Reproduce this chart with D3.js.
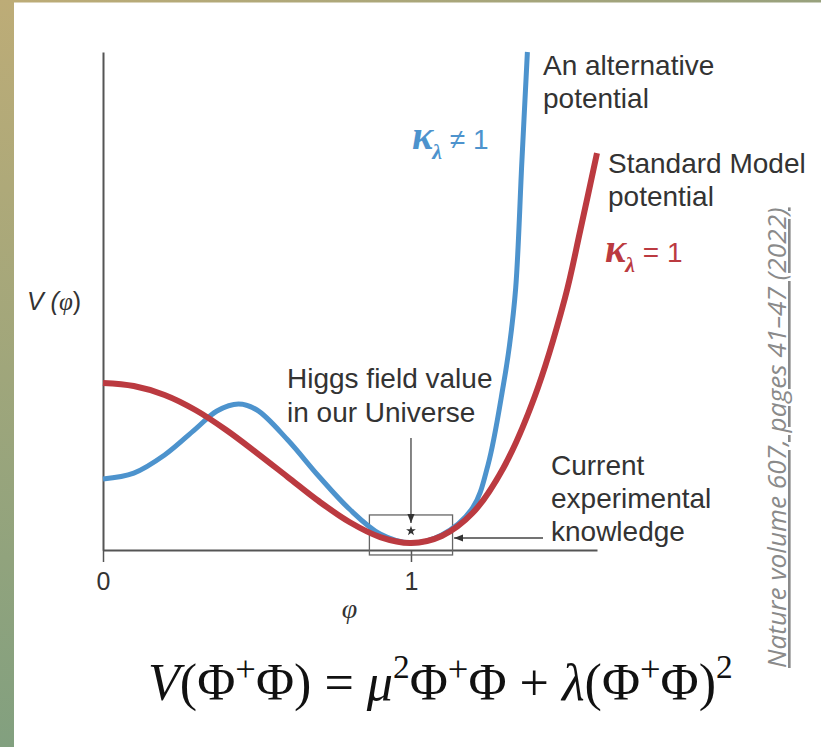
<!DOCTYPE html>
<html><head><meta charset="utf-8">
<script src="https://cdn.jsdelivr.net/npm/d3@7/dist/d3.min.js"></script>
<style>html,body{margin:0;padding:0;background:#fff;overflow:hidden} svg{display:block}</style>
</head><body>
<script>
// Higgs field value φ (in units of its vacuum value) and potential V(φ)
const phiTicks = [0, 1];
const smPhi = [0, 0.1, 0.2, 0.3, 0.4, 0.5, 0.6, 0.7, 0.8, 0.9, 1.0, 1.1, 1.2, 1.3, 1.4, 1.5, 1.55, 1.604];
const smV   = [1.044, 1.025, 0.969, 0.875, 0.75, 0.606, 0.456, 0.306, 0.175, 0.081, 0.044, 0.088, 0.231, 0.513, 0.95, 1.575, 2.0, 2.481];
const altPhi = [0, 0.1, 0.2, 0.3, 0.37, 0.44, 0.5, 0.6, 0.7, 0.8, 0.9, 1.0, 1.1, 1.2, 1.25, 1.3, 1.32, 1.34, 1.36, 1.378];
const altV   = [0.444, 0.481, 0.594, 0.756, 0.869, 0.9125, 0.875, 0.6875, 0.4625, 0.256, 0.1, 0.044, 0.094, 0.2625, 0.531, 1.031, 1.281, 1.6375, 2.425, 3.1125];

const W = 821, H = 747;
const RED = "#bb3a40", BLUE = "#4d93cd", INK = "#333", AXIS = "#555";
const SANS = "'Liberation Sans', Arial, Helvetica, sans-serif";
const SERIF = "'Liberation Serif', 'Times New Roman', serif";

const svg = d3.select("body").append("svg").attr("width", W).attr("height", H);
const defs = svg.append("defs");

// frame strips
const gl = defs.append("linearGradient").attr("id", "gLeft").attr("x1", 0).attr("y1", 0).attr("x2", 0).attr("y2", 1);
gl.append("stop").attr("offset", 0).attr("stop-color", "#bdac77");
gl.append("stop").attr("offset", 1).attr("stop-color", "#82a07f");
const gt = defs.append("linearGradient").attr("id", "gTop").attr("x1", 0).attr("y1", 0).attr("x2", 1).attr("y2", 0);
gt.append("stop").attr("offset", 0).attr("stop-color", "#bdac77");
gt.append("stop").attr("offset", 1).attr("stop-color", "#98a17d");
svg.append("rect").attr("x", 0).attr("y", 0).attr("width", W).attr("height", 2.5).attr("fill", "url(#gTop)");
svg.append("rect").attr("x", 0).attr("y", 0).attr("width", 14).attr("height", H).attr("fill", "url(#gLeft)");

// arrowhead
defs.append("marker").attr("id", "arr").attr("viewBox", "0 0 10 10")
  .attr("refX", 10).attr("refY", 5).attr("markerWidth", 9).attr("markerHeight", 9)
  .attr("markerUnits", "userSpaceOnUse").attr("orient", "auto")
  .append("path").attr("d", "M0,1L10,5L0,9Z").attr("fill", "#333");

const x = d3.scaleLinear().domain([0, 1.604]).range([103, 597]);
const y = d3.scaleLinear().domain([0, 3.1125]).range([550, 52]);

// axes
const gx = svg.append("g").attr("transform", `translate(0,${y(0)})`)
  .call(d3.axisBottom(x).tickValues(phiTicks).tickSize(12).tickSizeOuter(0).tickPadding(10).tickFormat(d3.format("d")));
const gy = svg.append("g").attr("transform", `translate(${x(0)},0)`)
  .call(d3.axisLeft(y).tickValues([]).tickSizeOuter(0));
[gx, gy].forEach(g => {
  g.select(".domain").attr("stroke", AXIS).attr("stroke-width", 2);
  g.selectAll(".tick line").attr("stroke", AXIS).attr("stroke-width", 1.5);
  g.selectAll(".tick text").attr("fill", INK).style("font-family", SANS).style("font-size", "25px");
});

// experimental-knowledge box around the minimum
svg.append("rect")
  .attr("x", x(0.865)).attr("y", y(0.219))
  .attr("width", x(1.135) - x(0.865)).attr("height", y(-0.031) - y(0.219))
  .attr("fill", "none").attr("stroke", "#666").attr("stroke-width", 1.3);

// potentials
const line = d3.line().x(d => x(d[0])).y(d => y(d[1])).curve(d3.curveCatmullRom.alpha(0.5));
svg.append("path").datum(altPhi.map((p, i) => [p, altV[i]]))
  .attr("d", line).attr("fill", "none").attr("stroke", BLUE).attr("stroke-width", 5);
svg.append("path").datum(smPhi.map((p, i) => [p, smV[i]]))
  .attr("d", line).attr("fill", "none").attr("stroke", RED).attr("stroke-width", 6);

// arrows and star
svg.append("line").attr("x1", x(1)).attr("x2", x(1)).attr("y1", y(0.7)).attr("y2", y(0.169))
  .attr("stroke", "#444").attr("stroke-width", 1.3).attr("marker-end", "url(#arr)");
svg.append("line").attr("x1", 543).attr("x2", x(1.14)).attr("y1", y(0.075)).attr("y2", y(0.075))
  .attr("stroke", "#444").attr("stroke-width", 1.3).attr("marker-end", "url(#arr)");
svg.append("path").attr("d", d3.symbol(d3.symbolStar, 30)())
  .attr("transform", `translate(${x(1)},${y(0.119)})`).attr("fill", "#333");

// text helpers
function label(lines, x0, y0, dy, size) {
  lines.forEach((t, i) => svg.append("text").attr("x", x0).attr("y", y0 + i * dy)
    .attr("fill", INK).style("font-family", SANS).style("font-size", size + "px").text(t));
}
label(["An alternative", "potential"], 543, 75, 33, 28);
label(["Standard Model", "potential"], 608, 173, 33, 28);
label(["Higgs field value", "in our Universe"], 287, 388, 34, 28);
label(["Current", "experimental", "knowledge"], 551, 475, 33, 28);

function kappa(x0, y0, rel, color) {
  const t = svg.append("text").attr("x", x0).attr("y", y0).attr("fill", color);
  t.append("tspan").style("font-family", SERIF).style("font-weight", "bold").style("font-style", "italic")
    .style("font-size", "40px").text("κ");
  t.append("tspan").attr("dy", 10).attr("dx", -1).style("font-family", SERIF).style("font-weight", "bold")
    .style("font-style", "italic").style("font-size", "22px").text("λ");
  t.append("tspan").attr("dy", -10).style("font-family", SANS).style("font-size", "28px").text(" " + rel + " 1");
}
kappa(412, 149, "≠", BLUE);
kappa(605, 262, "=", RED);

// axis titles
const vt = svg.append("text").attr("x", 27).attr("y", 310).attr("fill", INK).style("font-size", "25px");
vt.append("tspan").style("font-family", SANS).style("font-style", "italic").text("V (");
vt.append("tspan").style("font-family", SERIF).style("font-style", "italic").text("φ");
vt.append("tspan").style("font-family", SANS).text(")");
svg.append("text").attr("x", x(0.8)).attr("y", 618).attr("text-anchor", "middle").attr("fill", INK)
  .style("font-family", SERIF).style("font-style", "italic").style("font-size", "28px").text("φ");

// potential formula, fitted to its line width
const parts = [
  ["V", "i"], ["(Φ"], ["+", "s"], ["Φ) = "], ["μ", "i"], ["2", "s"], ["Φ"], ["+", "s"], ["Φ + "],
  ["λ", "i"], ["(Φ"], ["+", "s"], ["Φ)"], ["2", "s"]
];
const ft = svg.append("text").attr("x", 148).attr("y", 700).attr("fill", "#111").style("font-family", SERIF);
function drawFormula(fs) {
  ft.selectAll("*").remove();
  ft.style("font-size", fs + "px");
  let lift = 0;
  parts.forEach(([s, k]) => {
    const sp = ft.append("tspan").text(s);
    const target = k === "s" ? (s === "+" ? 0.36 : 0.42) * fs : 0;
    if (target !== lift) sp.attr("dy", lift - target);
    lift = target;
    if (k === "s") sp.style("font-size", ((s === "+" ? 0.7 : 0.64) * fs) + "px");
    if (k === "i") sp.style("font-style", "italic");
  });
}
drawFormula(50);
drawFormula(50 * 585 / ft.node().getComputedTextLength());

// source note, rotated along the right edge
const src = svg.append("text").attr("transform", "translate(786,668) rotate(-90)")
  .attr("fill", "#8a8a8a").style("font-family", "'Open Sans', 'Noto Sans', sans-serif")
  .style("font-style", "italic").style("text-decoration", "underline").style("font-size", "20px")
  .text("Nature volume 607, pages 41–47 (2022)");
src.style("font-size", (20 * 461 / src.node().getComputedTextLength()) + "px");
</script>
</body></html>
